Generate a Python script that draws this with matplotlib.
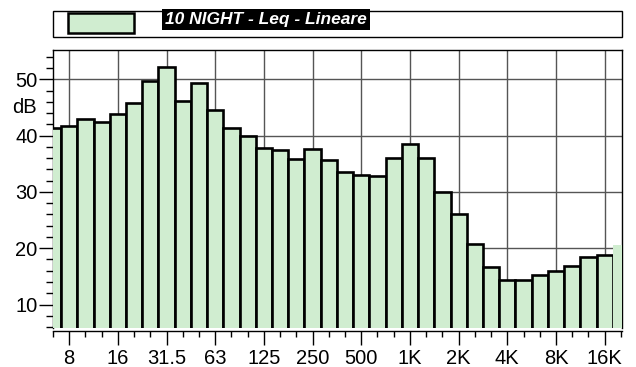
import matplotlib
matplotlib.use("Agg")
import matplotlib.pyplot as plt
from matplotlib.patches import Rectangle
from matplotlib.ticker import FixedLocator, MultipleLocator

# Third-octave bands (6.3 Hz .. 20 kHz)
bands = ["6.3", "8", "10", "12.5", "16", "20", "25", "31.5", "40", "50", "63", "80",
         "100", "125", "160", "200", "250", "315", "400", "500", "630", "800", "1K",
         "1.25K", "1.6K", "2K", "2.5K", "3.15K", "4K", "5K", "6.3K", "8K", "10K",
         "12.5K", "16K", "20K"]
leq_db = [41.4, 41.7, 42.9, 42.4, 43.8, 45.8, 49.7, 52.2, 46.2, 49.3, 44.6, 41.3,
          39.9, 37.8, 37.4, 35.9, 37.7, 35.6, 33.6, 33.0, 32.9, 36.0, 38.5, 36.0,
          29.9, 26.1, 20.8, 16.7, 14.3, 14.3, 15.2, 15.9, 16.9, 18.5, 18.8, 20.6]
labelled = ["8", "16", "31.5", "63", "125", "250", "500", "1K", "2K", "4K", "8K", "16K"]
y_major = [10, 20, 30, 40, 50]
series_name = "10 NIGHT - Leq - Lineare"

FILL = "#d0edd0"
FONT = "Liberation Sans"
TS = 14.5
W, H = 636, 367

plt.rcParams["font.family"] = FONT

fig = plt.figure(figsize=(W / 100, H / 100), dpi=100)
ax = fig.add_axes([53 / W, 1 - 327.7 / H, (622 - 53) / W, (327.7 - 50) / H])
ax.spines["bottom"].set_position(("outward", 2.4))

x = list(range(len(bands)))
ax.bar(x[:-1], leq_db[:-1], width=1.0, bottom=0, color=FILL,
       edgecolor="black", linewidth=1.9, zorder=3)
ax.bar(x[-1:], leq_db[-1:], width=1.0, bottom=0, color=FILL,
       edgecolor="none", linewidth=0, zorder=3)

ax.set_xlim(0, 35.07)
ax.set_ylim(5.88, 55.2)

major_idx = [bands.index(b) for b in labelled]
ax.xaxis.set_major_locator(FixedLocator(major_idx))
ax.set_xticklabels(labelled)
ax.xaxis.set_minor_locator(FixedLocator(x))
ax.yaxis.set_major_locator(FixedLocator(y_major))
ax.set_yticklabels([str(v) for v in y_major])
ax.yaxis.set_minor_locator(MultipleLocator(2))

ax.tick_params(axis="both", which="major", labelsize=TS)
ax.tick_params(axis="x", which="major", length=10, width=1, pad=3, direction="out")
ax.tick_params(axis="x", which="minor", length=4.5, width=1, direction="out")
ax.tick_params(axis="y", which="major", length=10, width=1, pad=1, direction="out")
ax.tick_params(axis="y", which="minor", length=5, width=1, direction="out")

ax.grid(True, which="major", color="#555555", linewidth=1.0, zorder=0)
ax.set_axisbelow(True)
for s in ax.spines.values():
    s.set_linewidth(1.0)
    s.set_zorder(2)

ax.text(-16.0 / 16.22, 45, "dB", ha="right", va="center",
        fontsize=TS, transform=ax.transData, clip_on=False)

# Legend box (figure pixel coordinates -> fractions)
def fx(px):
    return px / W

def fy(py):
    return 1 - py / H

fig.patches.append(Rectangle((fx(53.3), fy(36.7)), fx(622.3) - fx(53.3), fy(10.7) - fy(36.7),
                             transform=fig.transFigure, facecolor="white",
                             edgecolor="black", linewidth=1.0))
fig.patches.append(Rectangle((fx(68.3), fy(33.3)), fx(134.3) - fx(68.3), fy(12.7) - fy(33.3),
                             transform=fig.transFigure, facecolor=FILL,
                             edgecolor="black", linewidth=1.8))
fig.text(fx(165), fy(19.3), series_name, ha="left", va="center", color="white",
         fontsize=12.5, fontweight="bold", fontstyle="italic",
         bbox=dict(facecolor="black", edgecolor="none", pad=2))

fig.savefig("out.png", dpi=100)
